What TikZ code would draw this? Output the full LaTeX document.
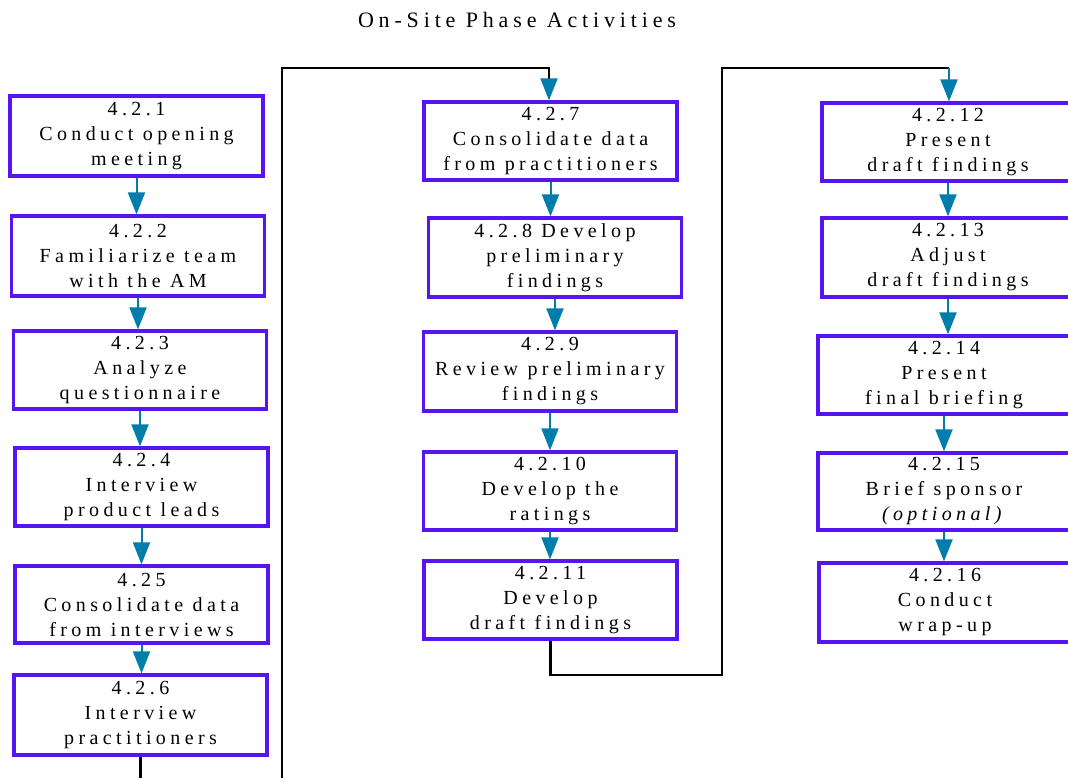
\documentclass[tikz,border=0pt]{standalone}
\usepackage{fontspec}
\usetikzlibrary{arrows.meta}
\newfontfamily\boxfont[LetterSpace=22]{Liberation Serif}
\definecolor{boxblue}{RGB}{85,20,240}
\definecolor{flowteal}{RGB}{0,125,170}
\tikzset{
  stepbox/.style={draw=boxblue, line width=3.3pt, fill=white, rectangle, inner sep=0pt,
    minimum width=253pt, minimum height=79pt, align=center,
    font=\boxfont\fontsize{20}{25}\selectfont},
  flow/.style={draw=flowteal, line width=2pt, -{Triangle[length=22pt,width=17pt]}, color=flowteal},
  conn/.style={draw=black, line width=2.4pt},
  titlestyle/.style={font=\boxfont\fontsize{22}{25}\selectfont, inner sep=0pt}
}
\begin{document}
\begin{tikzpicture}[x=1pt,y=-1pt]
\useasboundingbox (0,0) rectangle (1068,778);
\clip (0,0) rectangle (1068,778);
\fill[white] (0,0) rectangle (1068,778);

\node[titlestyle] (title) at (517,20) {On-Site Phase Activities};

% left column
\node[stepbox, minimum height=80pt] (b1) at (136.5,136) {4.2.1\\Conduct opening\\meeting};
\node[stepbox, minimum height=80pt] (b2) at (138,256) {4.2.2\\Familiarize team\\with the AM};
\node[stepbox, minimum height=78pt] (b3) at (140,370) {4.2.3\\Analyze\\questionnaire};
\node[stepbox, minimum height=78pt] (b4) at (141.5,487) {4.2.4\\Interview\\product leads};
\node[stepbox, minimum height=77pt] (b5) at (141.5,604.5) {4.25\\Consolidate data\\from interviews};
\node[stepbox, minimum height=80pt] (b6) at (140.5,715) {4.2.6\\Interview\\practitioners};

% middle column
\node[stepbox, minimum height=78pt] (b7) at (550.5,141) {4.2.7\\Consolidate data\\from practitioners};
\node[stepbox, minimum height=79pt] (b8) at (555,257.5) {4.2.8 Develop\\preliminary\\findings};
\node[stepbox, minimum height=79pt] (b9) at (550,371.5) {4.2.9\\Review preliminary\\findings};
\node[stepbox, minimum height=78pt] (b10) at (550,491) {4.2.10\\Develop the\\ratings};
\node[stepbox, minimum height=78pt] (b11) at (550.5,600) {4.2.11\\Develop\\draft findings};

% right column
\node[stepbox, minimum width=252pt, minimum height=78pt] (b12) at (948,142) {4.2.12\\Present\\draft findings};
\node[stepbox, minimum width=252pt, minimum height=79pt] (b13) at (948,257.5) {4.2.13\\Adjust\\draft findings};
\node[stepbox, minimum width=252pt, minimum height=78pt] (b14) at (944,375) {4.2.14\\Present\\final briefing};
\node[stepbox, minimum width=252pt, minimum height=77pt] (b15) at (944,491.5) {4.2.15\\Brief sponsor\\\textit{(optional)}};
\node[stepbox, minimum width=252pt, minimum height=79pt] (b16) at (945,602.5) {4.2.16\\Conduct\\wrap-up};

% flow arrows
\foreach \a/\b in {b1/b2,b2/b3,b3/b4,b4/b5,b5/b6,b7/b8,b8/b9,b9/b10,b10/b11,b12/b13,b13/b14,b14/b15,b15/b16}{
  \draw[flow] (\a.south) -- (\a.south |- \b.north);
}

% connectors between columns
\coordinate (c1) at (282,800);
\coordinate (c2) at (549,68);
\coordinate (c3) at (549,80);
\draw[conn] (b6.south) |- (c1) |- (c2) -- (c3);
\draw[flow] (c3) -- (c3 |- b7.north);

\coordinate (d1) at (722,675);
\coordinate (d2) at (949,68);
\draw[conn] (b11.south) |- (d1) |- (d2);
\draw[flow] (d2) -- (d2 |- b12.north);
\end{tikzpicture}
\end{document}
